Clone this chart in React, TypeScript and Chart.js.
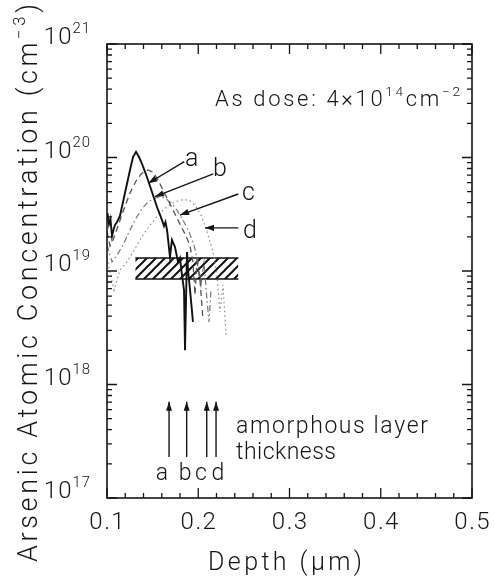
import React, { useEffect, useRef } from "react";
import { Chart, registerables } from "chart.js";
Chart.register(...registerables);

const W = 495;
const H = 578;
const FONT = '"Roboto", "Liberation Sans", sans-serif';
const WEIGHT = "300";

// axis ticks
const xTickValues = [0.1, 0.2, 0.3, 0.4, 0.5];
const xTickLabels = ["0.1", "0.2", "0.3", "0.4", "0.5"];
const yTickExponents = [17, 18, 19, 20, 21];
const yTickLabels = ["17", "18", "19", "20", "21"];

// curve a (solid)
const curveAX = [0.1005, 0.1022, 0.1038, 0.1055, 0.1071, 0.1088, 0.111, 0.1142, 0.1197, 0.1252, 0.1285, 0.1318, 0.1351, 0.1384, 0.1438, 0.1493, 0.1548, 0.1603, 0.1625, 0.1641, 0.1658, 0.169, 0.1712, 0.1745, 0.1778, 0.18, 0.1822, 0.1844, 0.1855, 0.1866, 0.1877, 0.1888, 0.191, 0.1942];
const curveAY = [3.24e19, 2.59e19, 2.87e19, 2.03e19, 2.3e19, 2.54e19, 2.7e19, 3.05e19, 4.87e19, 7.76e19, 1.01e20, 1.12e20, 1.01e20, 8.77e19, 6.73e19, 4.97e19, 3.66e19, 2.81e19, 2.49e19, 2.7e19, 2.3e19, 1.33e19, 1.88e19, 1.63e19, 1.2e19, 1.3e19, 9.2e18, 6.8e18, 2.0e18, 5.5e18, 1.47e19, 1.02e19, 6.8e18, 3.56e18];
// curve b (dashed)
const curveBX = [0.1, 0.1033, 0.1066, 0.1121, 0.1186, 0.1252, 0.1318, 0.1384, 0.1449, 0.1504, 0.1559, 0.1614, 0.1668, 0.1734, 0.18, 0.1866, 0.191, 0.1942, 0.1964, 0.1986, 0.2019, 0.2052];
const curveBY = [2.21e19, 1.66e19, 1.88e19, 2.49e19, 3.52e19, 4.87e19, 6.21e19, 7.3e19, 7.76e19, 7.45e19, 6.34e19, 5.18e19, 4.23e19, 3.31e19, 2.59e19, 2.03e19, 1.66e19, 1.2e19, 6.15e18, 1.2e19, 8.34e18, 3.7e18];
// curve c (dash-dot)
const curveCX = [0.1, 0.1055, 0.111, 0.1175, 0.1241, 0.1307, 0.1373, 0.1438, 0.1504, 0.157, 0.1636, 0.1701, 0.1767, 0.1833, 0.1899, 0.1953, 0.1997, 0.203, 0.2063, 0.2096, 0.2118, 0.214];
const curveCY = [1.69e19, 1.2e19, 1.38e19, 1.69e19, 2.21e19, 2.81e19, 3.44e19, 3.97e19, 4.31e19, 4.49e19, 4.4e19, 3.97e19, 3.44e19, 2.81e19, 2.21e19, 1.69e19, 1.2e19, 7.53e18, 1.2e19, 5.55e18, 3.56e18, 6.8e18];
// curve d (dotted)
const curveDX = [0.1, 0.1077, 0.1142, 0.1219, 0.1285, 0.1362, 0.1438, 0.1515, 0.1592, 0.1668, 0.1745, 0.1822, 0.1899, 0.1964, 0.203, 0.2085, 0.2129, 0.2173, 0.2205, 0.2238, 0.2271, 0.2304];
const curveDY = [1.3e19, 6.8e18, 1.02e19, 1.2e19, 1.47e19, 1.88e19, 2.34e19, 2.81e19, 3.31e19, 3.74e19, 4.06e19, 4.23e19, 4.23e19, 3.81e19, 3.11e19, 2.39e19, 1.8e19, 1.36e19, 9.2e18, 4.35e18, 7.53e18, 2.73e18];

// hatched band
const bandX = [0.131, 0.244];
const bandTopY = 1.3e19;
const bandBottomY = 8.5e18;

// curve labels + pointer arrows
const curveNames = ["a", "b", "c", "d"];
const nameX = [0.1928, 0.2238, 0.2549, 0.2567];
const nameY = [1.0e20, 8.0e19, 5.0e19, 2.3e19];
const pointerFromX = [0.1847, 0.2165, 0.2439, 0.2439];
const pointerFromY = [9.2e19, 7.16e19, 4.77e19, 2.4e19];
const pointerToX = [0.1453, 0.1526, 0.18, 0.2074];
const pointerToY = [5.93e19, 4.52e19, 3.11e19, 2.4e19];

// amorphous layer thickness arrows
const amorphousX = [0.168, 0.1873, 0.2093, 0.2195];
const amorphousLabelX = [0.1603, 0.1855, 0.203, 0.2216];
const amorphousArrowY = [2.3e17, 7.05e17];
const amorphousLabelY = 1.63e17;
const amorphousTextX = 0.2414;
const amorphousTextY = [4.4e17, 2.65e17];

const doseTextX = 0.2184;
const doseTextY = 3.34e20;

type Seg = { t: string; sup?: boolean };

function setFont(ctx: CanvasRenderingContext2D, size: number) {
  ctx.font = `${WEIGHT} ${size}px ${FONT}`;
}
function countChars(segs: Seg[]) {
  return segs.reduce((n, s) => n + Array.from(s.t).length, 0);
}
function richWidth(ctx: CanvasRenderingContext2D, segs: Seg[], size: number, sp: number) {
  let w = 0;
  for (const s of segs) {
    setFont(ctx, s.sup ? size * 0.62 : size);
    for (const ch of Array.from(s.t)) w += ctx.measureText(ch).width + sp;
  }
  return w - sp;
}
function fitSpacing(ctx: CanvasRenderingContext2D, segs: Seg[], size: number, target: number) {
  const nat = richWidth(ctx, segs, size, 0);
  const n = countChars(segs);
  return n > 1 ? (target - nat) / (n - 1) : 0;
}
function drawRich(ctx: CanvasRenderingContext2D, segs: Seg[], x: number, y: number, size: number, sp: number, align: string) {
  const w = richWidth(ctx, segs, size, sp);
  let cx = align === "center" ? x - w / 2 : align === "right" ? x - w : x;
  ctx.textAlign = "left";
  ctx.textBaseline = "alphabetic";
  for (const s of segs) {
    const fs = s.sup ? size * 0.62 : size;
    setFont(ctx, fs);
    const yy = s.sup ? y - size * 0.45 : y;
    for (const ch of Array.from(s.t)) {
      ctx.fillText(ch, cx, yy);
      cx += ctx.measureText(ch).width + sp;
    }
  }
}
function arrow(ctx: CanvasRenderingContext2D, x1: number, y1: number, x2: number, y2: number, head: number, half: number) {
  ctx.beginPath();
  ctx.moveTo(x1, y1);
  ctx.lineTo(x2, y2);
  ctx.stroke();
  const ang = Math.atan2(y2 - y1, x2 - x1);
  const bx = x2 - head * Math.cos(ang);
  const by = y2 - head * Math.sin(ang);
  ctx.beginPath();
  ctx.moveTo(x2, y2);
  ctx.lineTo(bx + half * Math.sin(ang), by - half * Math.cos(ang));
  ctx.lineTo(bx - half * Math.sin(ang), by + half * Math.cos(ang));
  ctx.closePath();
  ctx.fill();
}

const decorPlugin = {
  id: "decor",
  afterDraw(chart: any) {
    const { ctx, chartArea: a } = chart;
    const xs = chart.scales.x;
    const ys = chart.scales.y;
    const ink = "#151515";
    ctx.save();
    ctx.strokeStyle = ink;
    ctx.fillStyle = ink;
    // frame
    ctx.lineWidth = 1.6;
    ctx.strokeRect(a.left, a.top, a.right - a.left, a.bottom - a.top);
    // x ticks (top & bottom)
    ctx.lineWidth = 1.3;
    for (let i = 0; i <= 20; i++) {
      const v = 0.1 + i * 0.02;
      const px = xs.getPixelForValue(v);
      const len = i % 5 === 0 ? 10 : 5;
      ctx.beginPath();
      ctx.moveTo(px, a.bottom);
      ctx.lineTo(px, a.bottom - len);
      ctx.moveTo(px, a.top);
      ctx.lineTo(px, a.top + len);
      ctx.stroke();
    }
    // y ticks (left & right)
    for (let e = 17; e <= 21; e++) {
      for (let m = 1; m <= 9; m++) {
        if (e === 21 && m > 1) break;
        const py = ys.getPixelForValue(m * Math.pow(10, e));
        const len = m === 1 ? 10 : 5;
        ctx.beginPath();
        ctx.moveTo(a.left, py);
        ctx.lineTo(a.left + len, py);
        ctx.moveTo(a.right, py);
        ctx.lineTo(a.right - len, py);
        ctx.stroke();
      }
    }
    // tick labels
    xTickValues.forEach((v, i) => {
      drawRich(ctx, [{ t: xTickLabels[i] }], xs.getPixelForValue(v), a.bottom + 31, 24, 1.5, "center");
    });
    yTickExponents.forEach((e, i) => {
      drawRich(ctx, [{ t: "10" }, { t: yTickLabels[i], sup: true }], 90, ys.getPixelForValue(Math.pow(10, e)), 24, 1, "right");
    });
    // axis titles
    const xt: Seg[] = [{ t: "Depth (μm)" }];
    drawRich(ctx, xt, 285, 570, 25, fitSpacing(ctx, xt, 25, 154), "center");
    const yt: Seg[] = [{ t: "Arsenic Atomic Concentration (cm" }, { t: "−3", sup: true }, { t: ")" }];
    ctx.save();
    ctx.translate(37, 283);
    ctx.rotate(-Math.PI / 2);
    drawRich(ctx, yt, 0, 0, 27, fitSpacing(ctx, yt, 27, 558), "center");
    ctx.restore();
    // dose text
    const dose: Seg[] = [{ t: "As dose: 4×10" }, { t: "14", sup: true }, { t: "cm" }, { t: "−2", sup: true }];
    drawRich(ctx, dose, xs.getPixelForValue(doseTextX), ys.getPixelForValue(doseTextY) + 8, 22, fitSpacing(ctx, dose, 22, 245), "left");
    // curve names and pointers
    ctx.lineWidth = 1.4;
    curveNames.forEach((n, i) => {
      drawRich(ctx, [{ t: n }], xs.getPixelForValue(nameX[i]), ys.getPixelForValue(nameY[i]) + 8, 25, 0, "center");
      arrow(ctx, xs.getPixelForValue(pointerFromX[i]), ys.getPixelForValue(pointerFromY[i]), xs.getPixelForValue(pointerToX[i]), ys.getPixelForValue(pointerToY[i]), 9, 3.2);
    });
    // amorphous layer arrows
    amorphousX.forEach((v, i) => {
      const px = xs.getPixelForValue(v);
      arrow(ctx, px, ys.getPixelForValue(amorphousArrowY[0]), px, ys.getPixelForValue(amorphousArrowY[1]), 9, 3);
      drawRich(ctx, [{ t: curveNames[i] }], xs.getPixelForValue(amorphousLabelX[i]), ys.getPixelForValue(amorphousLabelY) + 6, 23, 0, "center");
    });
    const t1: Seg[] = [{ t: "amorphous layer" }];
    const t2: Seg[] = [{ t: "thickness" }];
    const tx = xs.getPixelForValue(amorphousTextX);
    drawRich(ctx, t1, tx, ys.getPixelForValue(amorphousTextY[0]) + 8, 23, fitSpacing(ctx, t1, 23, 192), "left");
    drawRich(ctx, t2, tx, ys.getPixelForValue(amorphousTextY[1]) + 9, 23, fitSpacing(ctx, t2, 23, 100), "left");
    ctx.restore();
  },
};

function pts(xs: number[], ys: number[]) {
  return xs.map((x, i) => ({ x, y: ys[i] }));
}

function makeHatch(): CanvasPattern | string {
  const c = document.createElement("canvas");
  const s = 9;
  c.width = s;
  c.height = s;
  const g = c.getContext("2d");
  if (!g) return "#000";
  g.strokeStyle = "#111";
  g.lineWidth = 2;
  g.beginPath();
  g.moveTo(-1, s + 1);
  g.lineTo(s + 1, -1);
  g.moveTo(-2, 2);
  g.lineTo(2, -2);
  g.moveTo(s - 2, s + 2);
  g.lineTo(s + 2, s - 2);
  g.stroke();
  return g.createPattern(c, "repeat") || "#000";
}

export default function App() {
  const ref = useRef<HTMLCanvasElement | null>(null);
  useEffect(() => {
    if (!ref.current) return;
    const hatch = makeHatch();
    const chart = new Chart(ref.current, {
      type: "line",
      data: {
        datasets: [
          { data: pts(curveAX, curveAY), borderColor: "#111", borderWidth: 1.9, pointRadius: 0, tension: 0, fill: false },
          { data: pts(curveBX, curveBY), borderColor: "#555", borderWidth: 1.3, borderDash: [6, 4], pointRadius: 0, tension: 0, fill: false },
          { data: pts(curveCX, curveCY), borderColor: "#777", borderWidth: 1.2, borderDash: [6, 3, 1.5, 3], pointRadius: 0, tension: 0, fill: false },
          { data: pts(curveDX, curveDY), borderColor: "#8a8a8a", borderWidth: 1.2, borderDash: [1.5, 3], pointRadius: 0, tension: 0, fill: false },
          { data: pts(bandX, [bandTopY, bandTopY]), borderColor: "#111", borderWidth: 1.6, pointRadius: 0, fill: "+1", backgroundColor: hatch as any },
          { data: pts(bandX, [bandBottomY, bandBottomY]), borderColor: "#111", borderWidth: 1.6, pointRadius: 0, fill: false },
        ],
      },
      options: {
        animation: false,
        responsive: false,
        maintainAspectRatio: false,
        parsing: false,
        layout: { padding: { left: 107, right: 23, top: 44, bottom: 80 } },
        plugins: { legend: { display: false }, tooltip: { enabled: false } },
        scales: {
          x: { type: "linear", min: 0.1, max: 0.5, display: false },
          y: { type: "logarithmic", min: 1e17, max: 1e21, display: false },
        },
      } as any,
      plugins: [decorPlugin],
    });
    return () => chart.destroy();
  }, []);
  return (
    <div style={{ position: "absolute", left: 0, top: 0, width: W, height: H, background: "#fff" }}>
      <canvas ref={ref} width={W} height={H} style={{ width: W, height: H, display: "block" }} />
    </div>
  );
}
